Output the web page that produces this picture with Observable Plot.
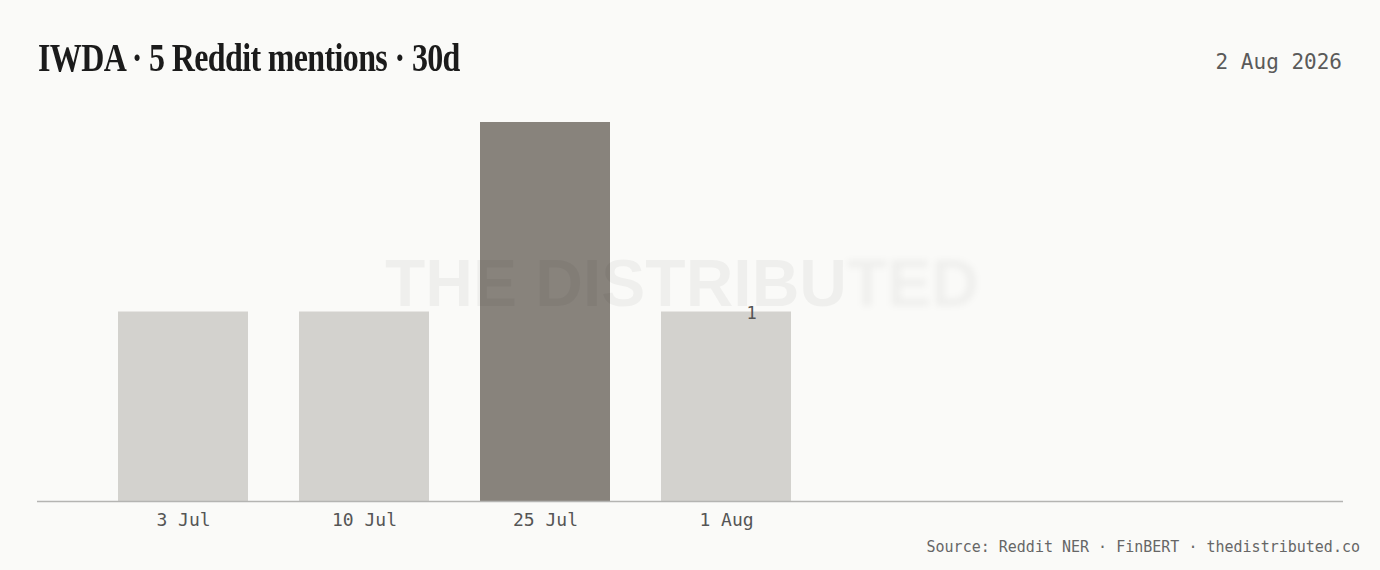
<!DOCTYPE html>
<html>
<head>
<meta charset="utf-8">
<script src="https://cdn.jsdelivr.net/npm/d3@7"></script>
<script src="https://cdn.jsdelivr.net/npm/@observablehq/plot@0.6"></script>
<style>
  html, body { margin: 0; padding: 0; background: #fafaf8; }
  body { width: 1380px; height: 570px; position: relative; overflow: hidden; }
  #title { position: absolute; left: 38px; top: 34px; font-family: "Liberation Serif", serif; font-weight: 700; font-size: 40px; letter-spacing: -0.8px; color: #1b1b1b; white-space: nowrap; transform: scaleX(0.8); transform-origin: left center; }
  #date { position: absolute; right: 38px; top: 50px; font-family: "DejaVu Sans Mono", monospace; font-size: 21px; color: #5a5a5a; }
  #chart { position: absolute; left: 0; top: 100px; }
  #watermark { position: absolute; left: 385px; top: 245px; font-family: "Liberation Sans", Arial, sans-serif; font-weight: 700; font-size: 66px; color: rgba(0,0,0,0.045); white-space: nowrap; pointer-events: none; }
  #watermark span { filter: blur(3px); display: inline-block; }
  #caption { position: absolute; right: 20px; top: 538px; font-family: "DejaVu Sans Mono", monospace; font-size: 15px; color: #666; white-space: nowrap; }
</style>
</head>
<body>
<div id="title"></div>
<div id="date"></div>
<div id="chart"></div>
<div id="watermark">THE DISTRIBU<span>TED</span></div>
<div id="caption"></div>
<script>
const titleText = "IWDA · 5 Reddit mentions · 30d";
const dateText = "2 Aug 2026";
const captionText = "Source: Reddit NER · FinBERT · thedistributed.co";

const dates = ["3 Jul", "10 Jul", "25 Jul", "1 Aug"];
const counts = [1, 1, 2, 1];
const labelDate = "1 Aug";

const data = dates.map((d, i) => ({date: d, count: counts[i]}));
const maxCount = d3.max(counts);

document.getElementById("title").textContent = titleText;
document.getElementById("date").textContent = dateText;
document.getElementById("caption").textContent = captionText;

const chart = Plot.plot({
  width: 1380,
  height: 430,
  marginLeft: 37,
  marginRight: 37,
  marginTop: 22,
  marginBottom: 29,
  style: { background: "transparent", fontFamily: "DejaVu Sans Mono, monospace", fontSize: "18px", color: "#555" },
  x: { domain: dates, range: [37, 872], paddingInner: 0.28, paddingOuter: 0.44, label: null },
  y: { domain: [0, maxCount], axis: null },
  marks: [
    Plot.barY(data, { x: "date", y: "count", fill: d => d.count === maxCount ? "#88837c" : "#d3d2ce" }),
    Plot.ruleY([0], { stroke: "#b4b4b2", strokeWidth: 1.5 }),
    Plot.text(data.filter(d => d.date === labelDate), { x: "date", y: "count", text: d => String(d.count), dx: 25, dy: 2, lineAnchor: "middle", fill: "#555", fontSize: 17 }),
    Plot.axisX({ tickSize: 0, tickPadding: 12, fill: "#555", fontSize: 18 })
  ]
});
document.getElementById("chart").appendChild(chart);
</script>
</body>
</html>
